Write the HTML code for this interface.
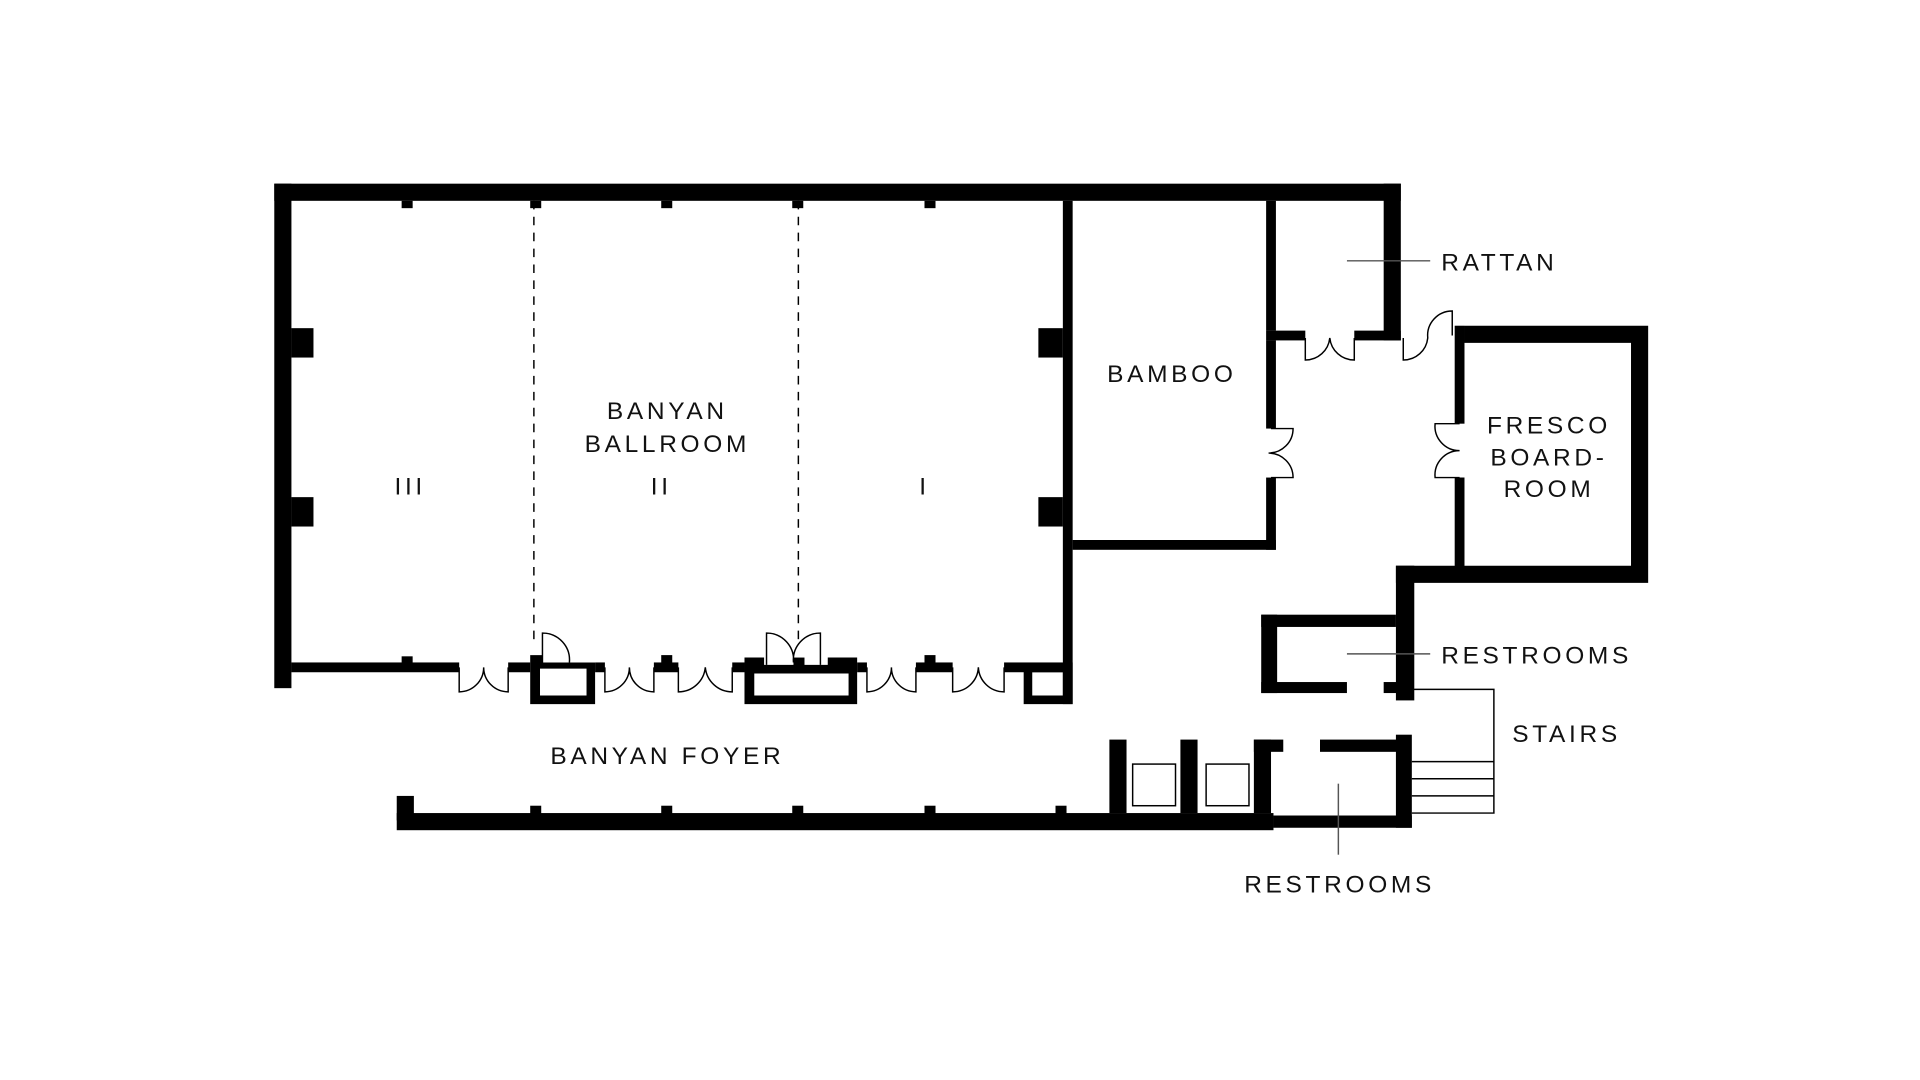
<!DOCTYPE html>
<html><head><meta charset="utf-8"><style>
html,body{margin:0;padding:0;background:#fff;}
svg{display:block}
text{font-family:"Liberation Sans",sans-serif;font-size:20px;letter-spacing:3px;fill:#111}
</style></head><body>
<svg width="1920" height="1080" viewBox="0 0 1568 882" xmlns="http://www.w3.org/2000/svg">
<g fill="#000">
<rect x="224" y="150" width="920" height="14"/>
<rect x="224" y="150" width="14" height="412"/>
<rect x="238" y="268" width="18" height="24"/><rect x="238" y="406" width="18" height="24"/>
<rect x="848" y="268" width="20" height="24"/><rect x="848" y="406" width="20" height="24"/>
<rect x="868" y="164" width="8" height="411"/>
<rect x="328" y="164" width="9" height="6"/><rect x="433" y="164" width="9" height="6"/><rect x="540" y="164" width="9" height="6"/><rect x="647" y="164" width="9" height="6"/><rect x="755" y="164" width="9" height="6"/>
<rect x="238" y="541" width="137" height="8"/>
<rect x="328" y="536" width="9" height="6"/>
<rect x="415" y="541" width="18" height="8"/>
<path d="M433 535h10v6h43v34h-53zM441 546v22h38v-22z" fill-rule="evenodd"/>
<rect x="486" y="541" width="8" height="8"/>
<rect x="534" y="541" width="20" height="8"/><rect x="540" y="535" width="9" height="7"/>
<rect x="598" y="541" width="10" height="8"/>
<path d="M608 537h16v6h52v-6h24v38h-92zM616 550v18h77v-18z" fill-rule="evenodd"/>
<rect x="648" y="537" width="9" height="10"/>
<rect x="700" y="541" width="8" height="8"/>
<rect x="748" y="541" width="30" height="8"/><rect x="755" y="535" width="9" height="7"/>
<rect x="820" y="541" width="48" height="8"/>
<path d="M836 541h40v34h-40zM843 549v19h25v-19z" fill-rule="evenodd"/>
<rect x="1034" y="164" width="8" height="106"/>
<rect x="1034" y="278" width="8" height="72"/>
<rect x="1034" y="390" width="8" height="59"/>
<rect x="876" y="441" width="166" height="8"/>
<rect x="1130" y="150" width="14" height="128"/>
<rect x="1034" y="270" width="32" height="8"/>
<rect x="1106" y="270" width="38" height="8"/>
<path d="M1188 266h158v210h-206v-14h48v-72h8v72h136v-182h-136v-14z"/>
<rect x="1188" y="266" width="8" height="80"/>
<rect x="1140" y="462" width="15" height="110"/>
<rect x="1030" y="502" width="110" height="10"/>
<rect x="1030" y="502" width="13" height="64"/>
<rect x="1030" y="557" width="70" height="9"/>
<rect x="1130" y="557" width="12" height="9"/>
<rect x="324" y="664" width="716" height="14"/>
<rect x="1040" y="666" width="113" height="10"/>
<rect x="324" y="650" width="14" height="20"/>
<rect x="433" y="658" width="9" height="7"/><rect x="540" y="658" width="9" height="7"/><rect x="647" y="658" width="9" height="7"/><rect x="755" y="658" width="9" height="7"/><rect x="862" y="658" width="9" height="7"/>
<rect x="906" y="604" width="14" height="60"/>
<rect x="964" y="604" width="14" height="60"/>
<rect x="1024" y="604" width="24" height="10"/><rect x="1024" y="604" width="14" height="60"/>
<rect x="1078" y="604" width="67" height="10"/>
<rect x="1140" y="600" width="13" height="76"/>
</g>
<g fill="none" stroke="#000" stroke-width="1.2">
<rect x="925" y="624" width="35" height="34"/><rect x="985" y="624" width="35" height="34"/>
<line x1="436" y1="164" x2="436" y2="528" stroke-dasharray="7,6"/>
<line x1="652" y1="164" x2="652" y2="528" stroke-dasharray="7,6"/>
<path d="M375 545v20a20 20 0 0 0 20 -20a20 20 0 0 0 20 20v-20"/>
<path d="M494 545v20a20 20 0 0 0 20 -20a20 20 0 0 0 20 20v-20"/>
<path d="M554 545v20a22 22 0 0 0 22 -20a22 22 0 0 0 22 20v-20"/>
<path d="M708 545v20a20 20 0 0 0 20 -20a20 20 0 0 0 20 20v-20"/>
<path d="M778 545v20a21 21 0 0 0 21 -20a21 21 0 0 0 21 20v-20"/>
<path d="M443 541v-24a22 22 0 0 1 22 24"/>
<path d="M626 543v-26a22 22 0 0 1 22 24a22 22 0 0 1 22 -24v26"/>
<path d="M1066 276v18a20 20 0 0 0 20 -18a20 20 0 0 0 20 18v-18"/>
<path d="M1146 276v18a20 20 0 0 0 20 -18a20 20 0 0 1 20 -22v20"/>
<path d="M1038 350h18a20 20 0 0 1 -20 20a20 20 0 0 1 20 20h-18"/>
<path d="M1192 346h-20a20 20 0 0 0 20 22a20 20 0 0 0 -20 22h20"/>
<path d="M1100 213h68" stroke="#555"/>
<path d="M1100 534h68" stroke="#555"/>
<path d="M1093 640v58" stroke="#555"/>
<path d="M1153 563h67v101h-67M1153 622h67M1153 636h67M1153 650h67"/>
</g>
<text x="545" y="342" text-anchor="middle">BANYAN</text>
<text x="545" y="369" text-anchor="middle">BALLROOM</text>
<text x="335" y="404" text-anchor="middle">III</text>
<text x="540" y="404" text-anchor="middle">II</text>
<text x="755" y="404" text-anchor="middle">I</text>
<text x="957" y="312" text-anchor="middle">BAMBOO</text>
<text x="1177" y="221">RATTAN</text>
<text x="1265" y="354" text-anchor="middle">FRESCO</text>
<text x="1265" y="380" text-anchor="middle">BOARD-</text>
<text x="1265" y="406" text-anchor="middle">ROOM</text>
<text x="1177" y="542">RESTROOMS</text>
<text x="1235" y="606">STAIRS</text>
<text x="545" y="624" text-anchor="middle">BANYAN FOYER</text>
<text x="1094" y="729" text-anchor="middle">RESTROOMS</text>
</svg>
</body></html>
